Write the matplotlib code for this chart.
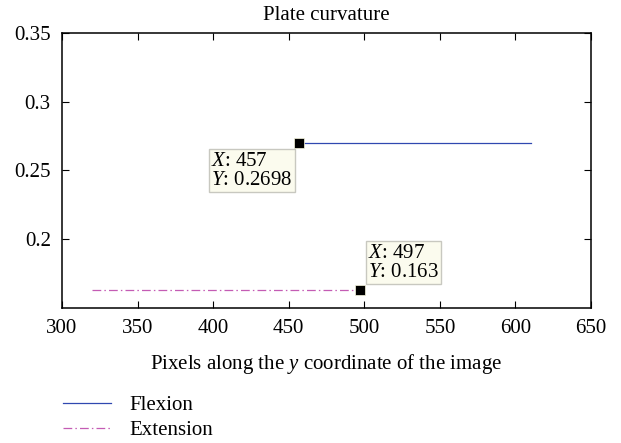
import matplotlib
matplotlib.use('Agg')
import matplotlib.pyplot as plt
import numpy as np

plt.rcParams['font.family'] = ['Liberation Serif', 'DejaVu Serif']
plt.rcParams['mathtext.fontset'] = 'custom'
plt.rcParams['mathtext.rm'] = 'Liberation Serif'
plt.rcParams['mathtext.it'] = 'Liberation Serif:italic'

# data
flexion_x = [457, 610]
flexion_y = [0.2698, 0.2698]
extension_x = [320, 497]
extension_y = [0.163, 0.163]
tip_points = [(457, 0.2698), (497, 0.163)]
tip_labels = ['$X$: 457\n$Y$: 0.2698', '$X$: 497\n$Y$: 0.163']
x_ticks = [300, 350, 400, 450, 500, 550, 600, 650]
y_ticks = [0.2, 0.25, 0.3, 0.35]

fs = 15

fig = plt.figure(figsize=(6.21, 4.43), dpi=100)
ax = fig.add_axes([0.0998, 0.3047, 0.852, 0.621])

ax.plot(flexion_x, flexion_y, color='#3048b0', lw=0.9, label='Flexion')
ax.plot(extension_x, extension_y, color='#c45cb4', lw=0.9, dashes=(7, 2.5, 1.2, 2.5),
        label='Extension')

# data tips
offsets = [(-5, -6), (6, 6)]
aligns = [('right', 'top'), ('left', 'bottom')]
for (px, py), lab, off, al in zip(tip_points, tip_labels, offsets, aligns):
    ax.plot(px, py, 's', color='black', ms=6.5, mec='#fafae0', mew=0.5)
    ax.annotate(lab, (px, py), xytext=off, textcoords='offset points',
                ha=al[0], va=al[1], multialignment='left', fontsize=fs, linespacing=1.0,
                bbox=dict(boxstyle='square,pad=0.12', fc='#fbfbee', ec='#c8c8c0', lw=1))

ax.set_xlim(300, 650)
ax.set_ylim(0.15, 0.35)
ax.set_xticks(x_ticks)
ax.set_yticks(y_ticks)
ax.set_yticklabels(['0.2', '0.25', '0.3', '0.35'])
ax.tick_params(direction='in', top=True, right=True, labelsize=fs, length=5, pad=8)
for s in ax.spines.values():
    s.set_linewidth(1.1)

ax.set_title('Plate curvature', fontsize=fs, pad=9)
ax.set_xlabel('Pixels along the $y$ coordinate of the image', fontsize=fs, labelpad=10)

fig.legend(loc='upper left', bbox_to_anchor=(0.085, 0.13), frameon=False,
           fontsize=fs, handlelength=2.3, handletextpad=0.9, labelspacing=0.25,
           borderpad=0)

fig.savefig('out.png', dpi=100)
